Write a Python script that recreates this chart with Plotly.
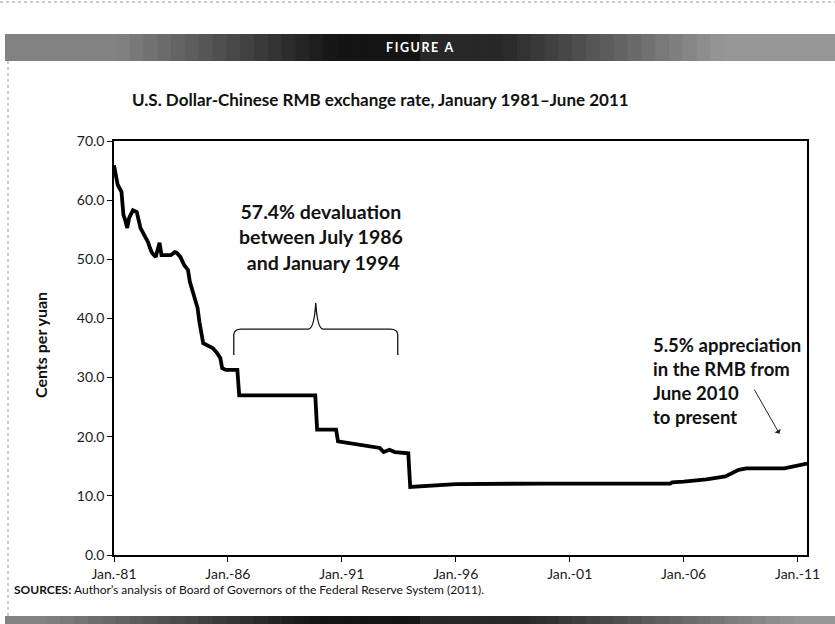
import pandas as pd
import plotly.graph_objects as go

# Monthly U.S. cents per Chinese yuan (key observations, Jan 1981 - Jun 2011)
months = [
    "1981-01", "1981-03", "1981-05", "1981-06", "1981-07", "1981-08", "1981-09", "1981-11",
    "1982-01", "1982-02", "1982-03", "1982-05", "1982-07", "1982-08", "1982-09", "1982-11",
    "1983-01", "1983-02", "1983-04", "1983-07", "1983-09", "1983-10", "1983-12",
    "1984-02", "1984-04", "1984-05", "1984-07", "1984-09", "1984-10", "1984-11", "1984-12",
    "1985-05", "1985-07", "1985-09", "1985-10", "1985-12",
    "1986-06", "1986-07", "1989-11", "1989-12", "1990-10", "1990-11",
    "1991-06", "1992-01", "1992-09", "1992-11", "1993-02", "1993-05", "1993-12",
    "1994-01", "1994-06", "1995-01", "1995-06", "1996-01", "2000-01", "2005-06",
    "2005-07", "2006-01", "2007-01", "2007-11", "2008-06", "2008-10", "2010-06",
    "2011-01", "2011-06",
]
cents = [
    65.9, 62.6, 61.4, 57.5, 56.6, 55.3, 57.0, 58.3,
    58.0, 56.3, 55.3, 54.1, 52.9, 51.9, 51.1, 50.4,
    52.8, 50.7, 50.7, 50.7, 51.2, 51.1, 50.4,
    49.0, 48.2, 46.2, 44.0, 41.8, 39.4, 37.2, 35.8,
    35.0, 34.3, 33.3, 31.6, 31.3,
    31.3, 27.0, 27.0, 21.2, 21.2, 19.2,
    18.8, 18.4, 18.1, 17.4, 17.8, 17.4, 17.2,
    11.5, 11.6, 11.8, 12.0, 12.0, 12.08, 12.08,
    12.3, 12.4, 12.8, 13.3, 14.4, 14.65, 14.65,
    15.1, 15.45,
]

tick_dates = ["1981-01-01", "1986-01-01", "1991-01-01", "1996-01-01",
              "2001-01-01", "2006-01-01", "2011-01-01"]
tick_labels = ["Jan.-81", "Jan.-86", "Jan.-91", "Jan.-96", "Jan.-01", "Jan.-06", "Jan.-11"]
y_ticks = [0, 10, 20, 30, 40, 50, 60, 70]

# Brace spanning the 1986-1994 devaluation period
brace_start, brace_end = pd.Timestamp("1986-04-05"), pd.Timestamp("1993-06-15")
brace_base, brace_bar, brace_tip = 33.8, 38.2, 42.6

# Arrow pointing at the 2010-2011 appreciation
arrow_tail = ("2009-01-25", 28.2)
arrow_head = ("2010-03-16", 20.5)

FONT = "Lato, 'Open Sans', sans-serif"
W, H = 835, 624

fig = go.Figure()
fig.add_trace(go.Scatter(
    x=[m + "-01" for m in months], y=cents, mode="lines",
    line=dict(color="black", width=3.8), hoverinfo="skip",
))


def d(ts):
    return ts.strftime("%Y-%m-%d_%H:%M:%S")


span = brace_end - brace_start
mid = brace_start + span / 2
r = span * 0.045
c = span * 0.01
path = (
    f"M{d(brace_start)},{brace_base} L{d(brace_start)},{brace_bar - 1.0} "
    f"Q{d(brace_start)},{brace_bar} {d(brace_start + r)},{brace_bar} "
    f"L{d(mid - r)},{brace_bar} "
    f"Q{d(mid - c)},{brace_bar} {d(mid)},{brace_tip} "
    f"Q{d(mid + c)},{brace_bar} {d(mid + r)},{brace_bar} "
    f"L{d(brace_end - r)},{brace_bar} "
    f"Q{d(brace_end)},{brace_bar} {d(brace_end)},{brace_bar - 1.0} "
    f"L{d(brace_end)},{brace_base}"
)

shapes = [
    dict(type="path", xref="x", yref="y", path=path,
         line=dict(color="#111", width=1.3)),
]


# Header and footer bands with a dark centre fading to grey
def band(y0, y1, dark_center, half_width, steps=60):
    out = []
    for i in range(steps):
        x0 = 5 + (W - 5) * i / steps
        x1 = 5 + (W - 5) * (i + 1) / steps
        xc = (x0 + x1) / 2
        dist = abs(xc - dark_center) / half_width
        g = int(min(1.0, max(0.0, (dist - 0.35) / 0.9)) * 110 + 20)
        if xc > dark_center:
            g = min(g + 20, 150)
        col = f"rgb({g},{g},{g})"
        out.append(dict(type="rect", xref="paper", yref="paper",
                        x0=x0 / W, x1=min(1.0, x1 / W + 0.001), y0=1 - y1 / H, y1=1 - y0 / H,
                        line=dict(width=0), fillcolor=col, layer="below"))
    return out


shapes += band(34, 61, 420, 240)
shapes += band(616, 624, 420, 300)
shapes += [
    dict(type="line", xref="paper", yref="paper", x0=0, x1=1, y0=1 - 2 / H, y1=1 - 2 / H,
         line=dict(color="#9a9a9a", width=1, dash="dot")),
    dict(type="line", xref="paper", yref="paper", x0=8 / W, x1=8 / W, y0=1 - 61 / H, y1=1 - 616 / H,
         line=dict(color="#9a9a9a", width=1, dash="dot")),
]


def note(text, x, y, size, xanchor="center", align="center", **kw):
    return dict(text=text, x=x / W, y=1 - y / H, xref="paper", yref="paper",
                xanchor=xanchor, yanchor="middle", align=align, showarrow=False,
                font=dict(family=FONT, size=size, color=kw.pop("color", "#111")), **kw)


annotations = [
    note("<b>F\u2009I\u2009G\u2009U\u2009R\u2009E\u2002A</b>", 419, 47.5, 12.5, color="white"),
    note("<b>U.S. Dollar-Chinese RMB exchange rate, January 1981\u2013June 2011</b>", 380, 100, 17),
    note("<b>Cents per yuan</b>", 40, 345, 16, textangle=-90),
    note("<b>57.4% devaluation<br>between July 1986<br> and January 1994</b>", 321, 237, 19.5),
    note("<b>5.5% appreciation<br>in the RMB from<br>June 2010<br>to present</b>",
         651, 381, 18.5, xanchor="left", align="left"),
    note("<b>SOURCES:</b> Author\u2019s analysis of Board of Governors of the Federal Reserve System (2011).",
         12, 589, 12, xanchor="left", align="left"),
    dict(text="", x=arrow_head[0], y=arrow_head[1], ax=arrow_tail[0], ay=arrow_tail[1],
         xref="x", yref="y", axref="x", ayref="y", showarrow=True,
         arrowhead=1, arrowsize=1.2, arrowwidth=1, arrowcolor="#222"),
]

axis_common = dict(
    showline=True, linecolor="black", linewidth=1.5, mirror=True,
    ticks="outside", ticklen=5, tickwidth=1, tickcolor="black",
    showgrid=False, zeroline=False, automargin=False,
    tickfont=dict(family=FONT, size=14, color="#1a1a1a"),
)

fig.update_layout(
    width=W, height=H, margin=dict(l=0, r=0, t=0, b=0, pad=0, autoexpand=False),
    paper_bgcolor="white", plot_bgcolor="white", showlegend=False,
    xaxis=dict(domain=[114 / W, 807 / W], type="date",
               range=["1981-01-01", "2011-06-01"],
               tickvals=tick_dates, ticktext=tick_labels, **axis_common),
    yaxis=dict(domain=[1 - 555 / H, 1 - 141 / H], range=[0, 70],
               tickvals=y_ticks, tickformat=".1f", **axis_common),
    shapes=shapes, annotations=annotations,
)

fig.write_html("out.html")
